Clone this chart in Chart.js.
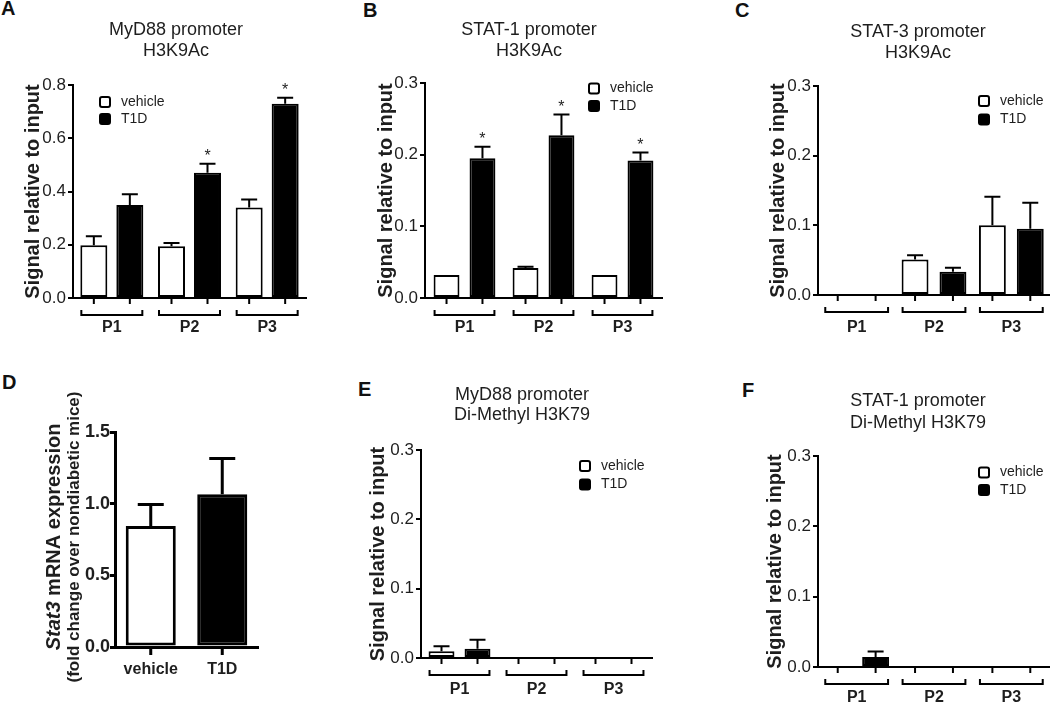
<!DOCTYPE html>
<html>
<head>
<meta charset="utf-8">
<script src="https://cdn.jsdelivr.net/npm/chart.js@4.4.1/dist/chart.umd.min.js"></script>
<style>
html,body{margin:0;padding:0;background:#fff;width:1050px;height:705px;overflow:hidden;position:relative;}
canvas{position:absolute;}
.lt{position:absolute;font-family:"Liberation Sans",Arial,sans-serif;font-weight:bold;font-size:20px;line-height:20px;color:#111;}
</style>
</head>
<body>
<div class="lt" style="left:1px;top:-2px">A</div>
<div class="lt" style="left:363px;top:0px">B</div>
<div class="lt" style="left:735px;top:0px">C</div>
<div class="lt" style="left:2px;top:372px">D</div>
<div class="lt" style="left:358px;top:379px">E</div>
<div class="lt" style="left:742px;top:380px">F</div>

<canvas id="cA" width="352" height="345" style="left:0px;top:0px"></canvas>
<canvas id="cB" width="352" height="345" style="left:353px;top:0px"></canvas>
<canvas id="cC" width="346" height="345" style="left:745px;top:0px"></canvas>
<canvas id="cD" width="340" height="335" style="left:0px;top:370px"></canvas>
<canvas id="cE" width="354" height="335" style="left:345px;top:370px"></canvas>
<canvas id="cF" width="352" height="335" style="left:742px;top:370px"></canvas>

<script>
// ---------------- data ----------------
const promoterRegions = ['P1', 'P2', 'P3'];
const groupNames = ['vehicle', 'T1D'];
const yAxisLabel = 'Signal relative to input';

// A: MyD88 promoter, H3K9Ac
const myd88H3K9Ac_vehicle    = [0.198, 0.194, 0.340];
const myd88H3K9Ac_vehicleErr = [0.034, 0.013, 0.030];
const myd88H3K9Ac_t1d        = [0.349, 0.470, 0.730];
const myd88H3K9Ac_t1dErr     = [0.041, 0.034, 0.022];
const myd88H3K9Ac_sig        = [false, true, true];
const ticksA = [0, 0.2, 0.4, 0.6, 0.8];

// B: STAT-1 promoter, H3K9Ac
const stat1H3K9Ac_vehicle    = [0.032, 0.042, 0.032];
const stat1H3K9Ac_vehicleErr = [0, 0.0015, 0];
const stat1H3K9Ac_t1d        = [0.195, 0.227, 0.192];
const stat1H3K9Ac_t1dErr     = [0.016, 0.029, 0.011];
const stat1H3K9Ac_sig        = [true, true, true];

// C: STAT-3 promoter, H3K9Ac
const stat3H3K9Ac_vehicle    = [0, 0.051, 0.100];
const stat3H3K9Ac_vehicleErr = [0, 0.006, 0.041];
const stat3H3K9Ac_t1d        = [0, 0.0335, 0.095];
const stat3H3K9Ac_t1dErr     = [0, 0.0055, 0.0375];

// D: Stat3 mRNA expression
const stat3mRNA_groups = ['vehicle', 'T1D'];
const stat3mRNA_values = [0.845, 1.065];
const stat3mRNA_err    = [0.15, 0.25];
const ticksD = [0, 0.5, 1.0, 1.5];

// E: MyD88 promoter, Di-Methyl H3K79
const myd88DiMe_vehicle    = [0.0096, 0, 0];
const myd88DiMe_vehicleErr = [0.0072, 0, 0];
const myd88DiMe_t1d        = [0.0134, 0, 0];
const myd88DiMe_t1dErr     = [0.013, 0, 0];

// F: STAT-1 promoter, Di-Methyl H3K79
const stat1DiMe_vehicle    = [0, 0, 0];
const stat1DiMe_vehicleErr = [0, 0, 0];
const stat1DiMe_t1d        = [0.0142, 0, 0];
const stat1DiMe_t1dErr     = [0.008, 0, 0];

const ticks03 = [0, 0.1, 0.2, 0.3];

// ---------------- styling helpers ----------------
const FONT = '"Liberation Sans", Arial, Helvetica, sans-serif';
const TEXT = '#1e1e1e';

const panelTitle = {
  id: 'panelTitle',
  afterDraw(chart, args, o) {
    if (!o || !o.lines) return;
    const ctx = chart.ctx;
    ctx.save();
    ctx.fillStyle = TEXT;
    ctx.font = '18px ' + FONT;
    ctx.textAlign = 'center';
    ctx.textBaseline = 'middle';
    o.lines.forEach((t, i) => ctx.fillText(t, o.x, o.y + i * o.lh));
    ctx.restore();
  }
};

const prismDecor = {
  id: 'prismDecor',
  afterDatasetsDraw(chart, args, o) {
    const ctx = chart.ctx, ya = chart.scales.y;
    ctx.save();
    ctx.strokeStyle = '#000';
    ctx.lineWidth = o.lineWidth;
    (o.errors || []).forEach((errs, di) => {
      const meta = chart.getDatasetMeta(di);
      const vals = chart.data.datasets[di].data;
      meta.data.forEach((el, j) => {
        const e = errs[j];
        if (!e) return;
        const yTop = ya.getPixelForValue(vals[j] + e);
        ctx.beginPath();
        ctx.moveTo(el.x, el.y);
        ctx.lineTo(el.x, yTop);
        ctx.moveTo(el.x - o.cap, yTop);
        ctx.lineTo(el.x + o.cap, yTop);
        ctx.stroke();
      });
    });
    (o.stars || []).forEach((flags, di) => {
      if (!flags) return;
      const meta = chart.getDatasetMeta(di);
      const vals = chart.data.datasets[di].data;
      const errs = (o.errors || [])[di] || [];
      meta.data.forEach((el, j) => {
        if (!flags[j]) return;
        const yTop = ya.getPixelForValue(vals[j] + (errs[j] || 0));
        ctx.fillStyle = TEXT;
        ctx.font = '16px ' + FONT;
        ctx.textAlign = 'center';
        ctx.textBaseline = 'alphabetic';
        ctx.fillText('*', el.x, yTop - 3);
      });
    });
    ctx.restore();
  },
  afterDraw(chart, args, o) {
    const ctx = chart.ctx, area = chart.chartArea;
    ctx.save();
    ctx.strokeStyle = '#000';
    ctx.lineWidth = o.lineWidth;
    // tick marks under each bar
    chart.data.datasets.forEach((ds, di) => {
      chart.getDatasetMeta(di).data.forEach(el => {
        ctx.beginPath();
        ctx.moveTo(el.x, area.bottom);
        ctx.lineTo(el.x, area.bottom + o.tickLen);
        ctx.stroke();
      });
    });
    // brackets grouping each promoter region
    if (o.brackets) {
      const n = chart.data.labels.length;
      for (let j = 0; j < n; j++) {
        let l = Infinity, r = -Infinity;
        chart.data.datasets.forEach((ds, di) => {
          const el = chart.getDatasetMeta(di).data[j];
          l = Math.min(l, el.x - el.width / 2);
          r = Math.max(r, el.x + el.width / 2);
        });
        const y = area.bottom + o.bracketOffset;
        ctx.beginPath();
        ctx.moveTo(l + 1, y - 5);
        ctx.lineTo(l + 1, y);
        ctx.lineTo(r - 1, y);
        ctx.lineTo(r - 1, y - 5);
        ctx.stroke();
      }
    }
    // legend
    if (o.legend) {
      const lg = o.legend;
      chart.data.datasets.forEach((ds, di) => {
        const cy = lg.y + di * lg.dy;
        const bx = lg.x, by = cy - lg.box / 2;
        ctx.beginPath();
        if (ctx.roundRect) ctx.roundRect(bx + 1, by + 1, lg.box - 2, lg.box - 2, 2);
        else ctx.rect(bx + 1, by + 1, lg.box - 2, lg.box - 2);
        ctx.fillStyle = ds.backgroundColor;
        ctx.fill();
        ctx.lineWidth = 2;
        ctx.strokeStyle = '#000';
        ctx.stroke();
        ctx.fillStyle = TEXT;
        ctx.font = '14px ' + FONT;
        ctx.textAlign = 'left';
        ctx.textBaseline = 'middle';
        ctx.fillText(ds.label, bx + lg.box + 10, cy);
      });
    }
    ctx.restore();
  }
};

function promoterChart(id, p) {
  const cv = document.getElementById(id);
  const L = p.left, T = p.top, W = cv.width, H = cv.height;
  const bar = (label, data, bg) => ({
    label, data, backgroundColor: bg, borderColor: '#000', borderWidth: 2,
    borderSkipped: false, barPercentage: p.bp, categoryPercentage: p.cp
  });
  return new Chart(cv, {
    type: 'bar',
    data: {
      labels: promoterRegions,
      datasets: [bar(groupNames[0], p.vehicle, '#ffffff'), bar(groupNames[1], p.t1d, '#000000')]
    },
    options: {
      responsive: false, animation: false, events: [],
      layout: { padding: { left: 0, right: L + W - p.x1, top: p.y0 - T, bottom: 0 } },
      plugins: {
        legend: { display: false },
        tooltip: { enabled: false },
        title: { display: false },
        panelTitle: { lines: p.title, x: p.tx - L, y: p.ty - T, lh: p.tlh },
        prismDecor: {
          lineWidth: 2, tickLen: 6, brackets: true, bracketOffset: 17, cap: 8,
          errors: [p.vehicleErr, p.t1dErr], stars: [null, p.sig],
          legend: { x: p.legend[0] - L, y: p.legend[1] - T, dy: p.legend[2], box: 12 }
        }
      },
      scales: {
        x: {
          type: 'category', offset: true,
          grid: { display: false, drawTicks: false },
          border: { display: true, color: '#000', width: 2 },
          ticks: { color: TEXT, font: { family: FONT, size: 16, weight: 'bold' }, padding: p.xpad },
          afterFit: s => { s.height = T + H - p.y1; }
        },
        y: {
          min: 0, max: p.ticks[p.ticks.length - 1],
          afterBuildTicks: s => { s.ticks = p.ticks.map(v => ({ value: v })); },
          grid: { display: true, drawOnChartArea: false, drawTicks: true, tickLength: 5, color: '#000', lineWidth: 2 },
          border: { display: true, color: '#000', width: 2 },
          ticks: { color: TEXT, font: { family: FONT, size: 17 }, padding: 2, callback: v => Number(v).toFixed(1) },
          title: {
            display: true, text: yAxisLabel, color: TEXT,
            font: { family: FONT, size: 20, weight: 'bold', lineHeight: 1.2 },
            padding: { top: 21, bottom: 0 }
          },
          afterFit: s => { s.width = p.x0 - L; }
        }
      }
    },
    plugins: [prismDecor, panelTitle]
  });
}

promoterChart('cA', {
  left: 0, top: 0, x0: 73, x1: 306, y0: 85, y1: 298, xpad: 20, cp: 0.927, bp: 0.75,
  title: ['MyD88 promoter', 'H3K9Ac'], tx: 176, ty: 30.5, tlh: 21, ticks: ticksA,
  vehicle: myd88H3K9Ac_vehicle, vehicleErr: myd88H3K9Ac_vehicleErr,
  t1d: myd88H3K9Ac_t1d, t1dErr: myd88H3K9Ac_t1dErr, sig: myd88H3K9Ac_sig,
  legend: [99, 102, 17]
});
promoterChart('cB', {
  left: 353, top: 0, x0: 425, x1: 662, y0: 83, y1: 298, xpad: 20, cp: 0.91, bp: 0.72,
  title: ['STAT-1 promoter', 'H3K9Ac'], tx: 529, ty: 30.5, tlh: 21, ticks: ticks03,
  vehicle: stat1H3K9Ac_vehicle, vehicleErr: stat1H3K9Ac_vehicleErr,
  t1d: stat1H3K9Ac_t1d, t1dErr: stat1H3K9Ac_t1dErr, sig: stat1H3K9Ac_sig,
  legend: [588, 88.5, 17.5]
});
promoterChart('cC', {
  left: 745, top: 0, x0: 818, x1: 1050, y0: 86, y1: 295, xpad: 23, cp: 0.98, bp: 0.71,
  title: ['STAT-3 promoter', 'H3K9Ac'], tx: 918, ty: 31.7, tlh: 21.5, ticks: ticks03,
  vehicle: stat3H3K9Ac_vehicle, vehicleErr: stat3H3K9Ac_vehicleErr,
  t1d: stat3H3K9Ac_t1d, t1dErr: stat3H3K9Ac_t1dErr, sig: null,
  legend: [978, 101, 18.5]
});
promoterChart('cE', {
  left: 345, top: 370, x0: 421, x1: 652, y0: 450, y1: 658, xpad: 22, cp: 0.935, bp: 0.72,
  title: ['MyD88 promoter', 'Di-Methyl H3K79'], tx: 522, ty: 395, tlh: 20.5, ticks: ticks03,
  vehicle: myd88DiMe_vehicle, vehicleErr: myd88DiMe_vehicleErr,
  t1d: myd88DiMe_t1d, t1dErr: myd88DiMe_t1dErr, sig: null,
  legend: [579, 466, 18.5]
});
promoterChart('cF', {
  left: 742, top: 370, x0: 818, x1: 1050, y0: 456, y1: 667, xpad: 21, cp: 0.98, bp: 0.71,
  title: ['STAT-1 promoter', 'Di-Methyl H3K79'], tx: 918, ty: 401.5, tlh: 21.5, ticks: ticks03,
  vehicle: stat1DiMe_vehicle, vehicleErr: stat1DiMe_vehicleErr,
  t1d: stat1DiMe_t1d, t1dErr: stat1DiMe_t1dErr, sig: null,
  legend: [978, 472.5, 17.5]
});

// ---------------- panel D ----------------
const stat3Title = {
  id: 'stat3Title',
  afterDraw(chart, args, o) {
    const ctx = chart.ctx, a = chart.chartArea;
    const cy = (a.top + a.bottom) / 2 + o.dy;
    ctx.save();
    ctx.fillStyle = TEXT;
    ctx.textBaseline = 'middle';
    ctx.textAlign = 'left';
    // line 1
    ctx.save();
    ctx.translate(o.x1, cy);
    ctx.rotate(-Math.PI / 2);
    const fi = 'italic bold 20px ' + FONT, fb = 'bold 20px ' + FONT;
    ctx.font = fi; const w1 = ctx.measureText(o.italic).width;
    ctx.font = fb; const w2 = ctx.measureText(o.rest).width;
    const sx = -(w1 + w2) / 2;
    ctx.font = fi; ctx.fillText(o.italic, sx, 0);
    ctx.font = fb; ctx.fillText(o.rest, sx + w1, 0);
    ctx.restore();
    // line 2
    ctx.save();
    ctx.translate(o.x2, cy);
    ctx.rotate(-Math.PI / 2);
    ctx.font = 'bold 17px ' + FONT;
    ctx.textAlign = 'center';
    ctx.fillText(o.line2, 0, 0);
    ctx.restore();
    ctx.restore();
  }
};

(function () {
  const cv = document.getElementById('cD');
  const L = 0, T = 370, W = cv.width, H = cv.height;
  const x0 = 115, x1 = 258, y0 = 432, y1 = 647;
  new Chart(cv, {
    type: 'bar',
    data: {
      labels: stat3mRNA_groups,
      datasets: [{
        label: 'Stat3 mRNA', data: stat3mRNA_values,
        backgroundColor: ['#ffffff', '#000000'], borderColor: '#000', borderWidth: 3,
        borderSkipped: false, barPercentage: 0.70, categoryPercentage: 1.0
      }]
    },
    options: {
      responsive: false, animation: false, events: [],
      layout: { padding: { left: 0, right: L + W - x1, top: y0 - T, bottom: 0 } },
      plugins: {
        legend: { display: false }, tooltip: { enabled: false }, title: { display: false },
        prismDecor: { lineWidth: 3, tickLen: 8, brackets: false, cap: 13, errors: [stat3mRNA_err], stars: [] },
        stat3Title: { x1: 54, x2: 74, dy: -2.5, italic: 'Stat3', rest: ' mRNA expression', line2: '(fold change over nondiabetic mice)' }
      },
      scales: {
        x: {
          type: 'category', offset: true,
          grid: { display: false, drawTicks: false },
          border: { display: true, color: '#000', width: 3 },
          ticks: { color: TEXT, font: { family: FONT, size: 16, weight: 'bold' }, padding: 13 },
          afterFit: s => { s.height = T + H - y1; }
        },
        y: {
          min: 0, max: 1.5,
          afterBuildTicks: s => { s.ticks = ticksD.map(v => ({ value: v })); },
          grid: { display: true, drawOnChartArea: false, drawTicks: true, tickLength: 5, color: '#000', lineWidth: 3 },
          border: { display: true, color: '#000', width: 3 },
          ticks: { color: TEXT, font: { family: FONT, size: 18, weight: 'bold' }, padding: 0, callback: v => Number(v).toFixed(1) },
          afterFit: s => { s.width = x0 - L; }
        }
      }
    },
    plugins: [prismDecor, stat3Title]
  });
})();
</script>
</body>
</html>
